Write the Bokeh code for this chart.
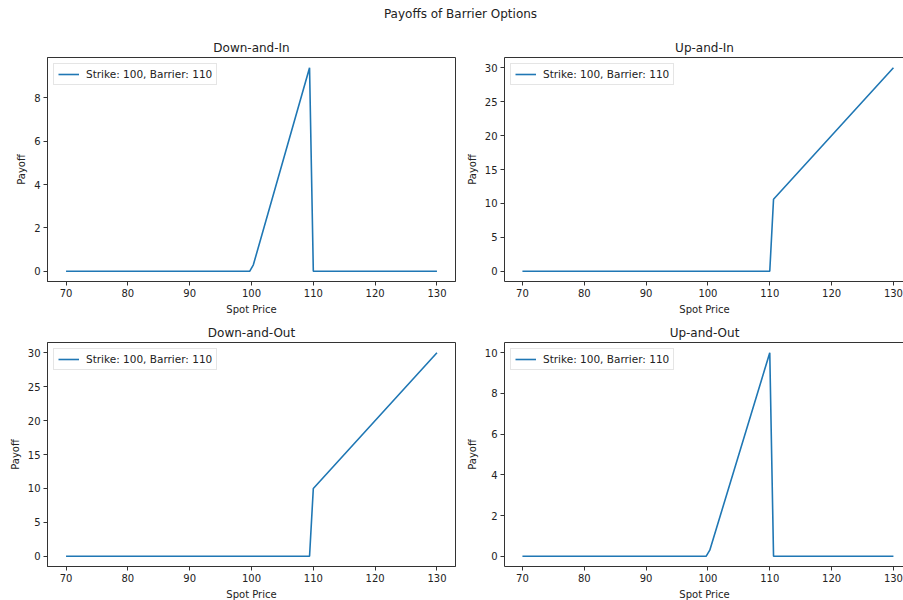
from bokeh.plotting import figure
from bokeh.layouts import column, row
from bokeh.models import Range1d, FixedTicker, LinearAxis, Label
from bokeh.embed import file_html
from bokeh.resources import INLINE

# ---- data (breakpoints) ----
suptitle = "Payoffs of Barrier Options"
legend_text = "Strike: 100, Barrier: 110"
x_label = "Spot Price"
y_label = "Payoff"

titles = ["Down-and-In", "Up-and-In", "Down-and-Out", "Up-and-Out"]

spot_down_in = [70.0, 99.7, 100.3, 109.39, 110.0, 130.0]
pay_down_in = [0.0, 0.0, 0.3, 9.39, 0.0, 0.0]

spot_up_in = [70.0, 110.0, 110.61, 130.0]
pay_up_in = [0.0, 0.0, 10.61, 30.0]

spot_down_out = [70.0, 109.39, 110.0, 130.0]
pay_down_out = [0.0, 0.0, 10.0, 30.0]

spot_up_out = [70.0, 99.7, 100.3, 110.0, 110.61, 130.0]
pay_up_out = [0.0, 0.0, 0.3, 10.0, 0.0, 0.0]

x_ticks = [70, 80, 90, 100, 110, 120, 130]
y_ticks_small = [0, 2, 4, 6, 8]
y_ticks_big = [0, 5, 10, 15, 20, 25, 30]
y_ticks_ten = [0, 2, 4, 6, 8, 10]

FONT = "DejaVu Sans"
TXT = "#222222"
SPINE = "#333333"
BLUE = "#1f77b4"


def make_panel(title, xs, ys, yticks, xr, yr, left_panel, top_row):
    if left_panel:
        mbl, fw, mbr = 47, 408, 8
    else:
        mbl, fw, mbr = 40, 400, 0
    if top_row:
        mbt, mbb = 27, 39
    else:
        mbt, mbb = 22, 34
    p = figure(frame_width=fw, frame_height=224,
               min_border_left=mbl, min_border_right=mbr,
               min_border_top=mbt, min_border_bottom=mbb,
               x_range=Range1d(*xr), y_range=Range1d(*yr),
               output_backend="svg", toolbar_location=None)
    p.grid.visible = False
    p.background_fill_color = "white"
    p.border_fill_color = "white"

    p.title.text = title
    p.title.align = "center"
    p.title.text_font = FONT
    p.title.text_font_size = "12px"
    p.title.text_font_style = "normal"
    p.title.text_color = TXT
    p.title.standoff = 6

    bottom_axis = p.below[0]
    left_axis = p.left[0]

    if left_panel:
        p.outline_line_color = SPINE
        p.outline_line_width = 1
        p.outline_line_alpha = 1
    else:
        p.outline_line_color = None
        top = LinearAxis(ticker=FixedTicker(ticks=[]))
        top.axis_line_color = SPINE
        top.axis_line_width = 1
        top.major_tick_out = 0
        top.major_tick_in = 0
        top.minor_tick_out = 0
        top.minor_tick_in = 0
        top.major_label_standoff = 0
        top.major_label_text_font_size = "0px"
        top.axis_label = None
        p.add_layout(top, "above")

    p.line(xs, ys, line_color=BLUE, line_width=1.6, legend_label=legend_text)

    for ax, ticks, lab in ((bottom_axis, x_ticks, x_label), (left_axis, yticks, y_label)):
        ax.ticker = FixedTicker(ticks=ticks)
        ax.axis_label = lab
        ax.axis_label_text_font = FONT
        ax.axis_label_text_font_size = "10px"
        ax.axis_label_text_font_style = "normal"
        ax.axis_label_text_color = TXT
        ax.major_label_text_font = FONT
        ax.major_label_text_font_size = "10px"
        ax.major_label_text_color = TXT
        ax.axis_line_color = SPINE
        ax.axis_line_width = 1
        ax.major_tick_line_color = SPINE
        ax.major_tick_out = 4
        ax.major_tick_in = 0
        ax.minor_tick_out = 0
        ax.minor_tick_in = 0
        ax.major_label_standoff = 3
        ax.axis_label_standoff = 4

    lg = p.legend[0]
    lg.location = "top_left"
    lg.margin = 6
    lg.padding = 4
    lg.spacing = 0
    lg.glyph_width = 21
    lg.glyph_height = 12
    lg.label_height = 12
    lg.label_standoff = 7
    lg.label_text_font = FONT
    lg.label_text_font_size = "10.5px"
    lg.label_text_color = TXT
    lg.border_line_color = "#cccccc"
    lg.border_line_width = 1
    lg.background_fill_alpha = 0.8
    return p


p1 = make_panel(titles[0], spot_down_in, pay_down_in, y_ticks_small,
                (67.0, 133.0), (-0.47, 9.86), True, True)
p2 = make_panel(titles[1], spot_up_in, pay_up_in, y_ticks_big,
                (67.1, 131.79), (-1.5, 31.5), False, True)
p3 = make_panel(titles[2], spot_down_out, pay_down_out, y_ticks_big,
                (67.0, 133.0), (-1.5, 31.5), True, False)
p4 = make_panel(titles[3], spot_up_out, pay_up_out, y_ticks_ten,
                (67.1, 131.79), (-0.5, 10.5), False, False)

# super title strip
t = figure(width=903, height=30, x_range=Range1d(0, 903), y_range=Range1d(0, 30),
           x_axis_type=None, y_axis_type=None, min_border=0,
           output_backend="svg", toolbar_location=None)
t.outline_line_color = None
t.grid.visible = False
t.add_layout(Label(x=460, y=17, text=suptitle, text_align="center",
                   text_baseline="middle", text_font=FONT,
                   text_font_size="12px", text_color=TXT))

layout = column(t, row(p1, p2), row(p3, p4))

open("out.html", "w").write(file_html(layout, INLINE))
